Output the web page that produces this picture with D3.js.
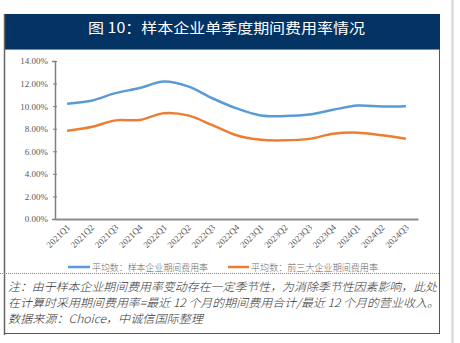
<!DOCTYPE html>
<html><head><meta charset="utf-8">
<script src="https://cdn.jsdelivr.net/npm/d3@7"></script>
<style>body{margin:0;background:#fff}svg{display:block}</style>
</head><body>
<script>
const categories = ["2021Q1","2021Q2","2021Q3","2021Q4","2022Q1","2022Q2","2022Q3","2022Q4","2023Q1","2023Q2","2023Q3","2023Q4","2024Q1","2024Q2","2024Q3"];
const sampleAvg = [10.22,10.48,11.15,11.6,12.18,11.75,10.7,9.8,9.18,9.12,9.25,9.68,10.05,9.97,10.0];
const top3Avg = [7.82,8.15,8.74,8.77,9.38,9.18,8.32,7.42,7.02,6.97,7.1,7.55,7.65,7.42,7.12];
const yTicks = [0,2,4,6,8,10,12,14];
const seriesNames = ["平均数：样本企业期间费用率","平均数：前三大企业期间费用率"];
const titleText = "图 10：样本企业单季度期间费用率情况";
const noteLines = ["注：由于样本企业期间费用率变动存在一定季节性，为消除季节性因素影响，此处",
  "在计算时采用期间费用率=最近 12 个月的期间费用合计/最近 12 个月的营业收入。",
  "数据来源：Choice，中诚信国际整理"];
const colors = ["#5B9BD5","#ED7D31"];

const W=460,H=343;
const svg=d3.select("body").append("svg").attr("width",W).attr("height",H);
const cjk='"Noto Sans CJK SC", sans-serif';
const serif='"Liberation Serif","Times New Roman", serif';

// frame
svg.append("line").attr("x1",452.5).attr("x2",452.5).attr("y1",0).attr("y2",H).attr("stroke","#d4d4d4").attr("stroke-width",2);
svg.append("rect").attr("x",5).attr("y",14).attr("width",435).attr("height",35).attr("fill","#033363");
svg.append("line").attr("x1",5).attr("x2",440).attr("y1",49.5).attr("y2",49.5).attr("stroke","#888");
svg.append("line").attr("x1",4.5).attr("x2",4.5).attr("y1",14).attr("y2",335).attr("stroke","#666").attr("stroke-width",1.5);
svg.append("line").attr("x1",439.5).attr("x2",439.5).attr("y1",49).attr("y2",333.5).attr("stroke","#555");
svg.append("line").attr("x1",4).attr("x2",440).attr("y1",333.5).attr("y2",333.5).attr("stroke","#555");
svg.append("line").attr("x1",0).attr("x2",439).attr("y1",273.5).attr("y2",273.5).attr("stroke","#888").attr("stroke-dasharray","1,1");

svg.append("text").attr("x",226.5).attr("y",33).attr("text-anchor","middle")
  .attr("fill","#fff").attr("font-family",cjk).attr("font-weight",400).attr("font-size",14)
  .attr("textLength",277).attr("lengthAdjust","spacingAndGlyphs").text(titleText);

// scales
const x=d3.scalePoint().domain(categories).range([55,418]).padding(0.5);
const y=d3.scaleLinear().domain([0,14]).range([219,61]);

const yAxis=svg.append("g").attr("transform","translate(55,0)")
  .call(d3.axisLeft(y).tickValues(yTicks).tickSize(3).tickFormat(d=>d.toFixed(2)+"%"));
yAxis.select(".domain").attr("stroke","#7f7f7f").attr("stroke-width",1.5);
yAxis.selectAll(".tick line").attr("stroke","#7f7f7f").attr("x2",-2).attr("x1",2);
yAxis.selectAll("text").attr("font-family",serif).attr("font-size",9).attr("fill","#595959").attr("x",-7);

const xAxis=svg.append("g").attr("transform","translate(0,219)")
  .call(d3.axisBottom(x).tickSize(0).tickSizeOuter(0));
xAxis.select(".domain").attr("stroke","#8c8c8c").attr("stroke-width",2);
xAxis.selectAll("text").attr("font-family",serif).attr("font-size",9).attr("fill","#595959")
  .attr("text-anchor","end").attr("dy",0).attr("y",0)
  .attr("transform","translate(3,9) rotate(-45)");

const line=d3.line().x((d,i)=>x(categories[i])).y(d=>y(d)).curve(d3.curveCatmullRom.alpha(0.5));
[sampleAvg,top3Avg].forEach((s,k)=>{
  svg.append("path").datum(s).attr("d",line).attr("fill","none").attr("stroke",colors[k]).attr("stroke-width",2.5);
});

// legend
const lg=[{x1:68,x2:90,tx:92,tl:116},{x1:228,x2:249,tx:251,tl:127}];
lg.forEach((l,k)=>{
  svg.append("line").attr("x1",l.x1).attr("x2",l.x2).attr("y1",267).attr("y2",267).attr("stroke",colors[k]).attr("stroke-width",2.5);
  svg.append("text").attr("x",l.tx).attr("y",270.5).attr("font-family",cjk).attr("font-weight",300).attr("font-size",9).attr("fill","#666")
    .attr("textLength",l.tl).attr("lengthAdjust","spacingAndGlyphs").text(seriesNames[k]);
});

// notes
const nl=[{y:291,l:429},{y:307,l:431},{y:323,l:195}];
noteLines.forEach((t,i)=>{
  svg.append("text").attr("x",8).attr("y",nl[i].y).attr("font-family",cjk).attr("font-style","italic").attr("font-weight",300)
    .attr("font-size",11.5).attr("fill","#333").attr("textLength",nl[i].l).attr("lengthAdjust","spacingAndGlyphs").text(t);
});
</script>
</body></html>
